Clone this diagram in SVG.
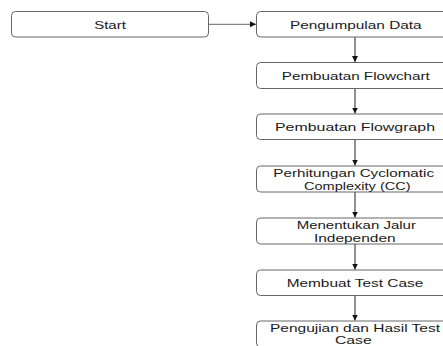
<svg xmlns="http://www.w3.org/2000/svg" width="443" height="346" viewBox="0 0 443 346">
<style>
.box{fill:#fff;stroke:#666;stroke-width:1}
.t{font-family:"Liberation Sans",Arial,sans-serif;font-size:11px;fill:#1a1a1a;text-anchor:middle}
.c{fill:none;stroke:#222;stroke-width:1}
</style>
<defs>
<marker id="ah" markerUnits="userSpaceOnUse" markerWidth="7" markerHeight="7" refX="6" refY="3" orient="auto">
<path d="M0,0 L6,3 L0,6 z" fill="#111"/>
</marker>
</defs>
<rect width="443" height="346" fill="#fff"/>
<g id="connectors">
<path class="c" d="M208.5,24.3 H256" stroke="#666" style="stroke:#666" marker-end="url(#ah)"/>
<path class="c" d="M355,37 V62" marker-end="url(#ah)"/>
<path class="c" d="M355,88.5 V113.5" marker-end="url(#ah)"/>
<path class="c" d="M355,139.5 V165.5" marker-end="url(#ah)"/>
<path class="c" d="M355,192 V217.5" marker-end="url(#ah)"/>
<path class="c" d="M355,244 V269.5" marker-end="url(#ah)"/>
<path class="c" d="M355,295.5 V320.5" marker-end="url(#ah)"/>
</g>
<g id="start">
<rect class="box" x="11.5" y="11.5" width="197" height="25.5" rx="4"/>
<text class="t" x="110" y="28.5" textLength="31.7" lengthAdjust="spacingAndGlyphs">Start</text>
</g>
<g id="pengumpulan">
<rect class="box" x="256.5" y="11.5" width="197" height="25.5" rx="4"/>
<text class="t" x="355.8" y="28.5" textLength="131.7" lengthAdjust="spacingAndGlyphs">Pengumpulan Data</text>
</g>
<g id="flowchart">
<rect class="box" x="256.5" y="62.5" width="197" height="26" rx="4"/>
<text class="t" x="355.8" y="79.8" textLength="148" lengthAdjust="spacingAndGlyphs">Pembuatan Flowchart</text>
</g>
<g id="flowgraph">
<rect class="box" x="256.5" y="114" width="197" height="25.5" rx="4"/>
<text class="t" x="355" y="131" textLength="160" lengthAdjust="spacingAndGlyphs">Pembuatan Flowgraph</text>
</g>
<g id="cc">
<rect class="box" x="256.5" y="166" width="197" height="26" rx="4"/>
<text class="t" x="353.7" y="176.5" textLength="160.7" lengthAdjust="spacingAndGlyphs">Perhitungan Cyclomatic</text>
<text class="t" x="357.3" y="189.8" textLength="106.7" lengthAdjust="spacingAndGlyphs">Complexity (CC)</text>
</g>
<g id="jalur">
<rect class="box" x="256.5" y="218" width="197" height="26" rx="4"/>
<text class="t" x="356.3" y="228.8" textLength="119.3" lengthAdjust="spacingAndGlyphs">Menentukan Jalur</text>
<text class="t" x="354.8" y="241.5" textLength="81.7" lengthAdjust="spacingAndGlyphs">Independen</text>
</g>
<g id="testcase">
<rect class="box" x="256.5" y="270" width="197" height="25.5" rx="4"/>
<text class="t" x="355" y="287" textLength="136.7" lengthAdjust="spacingAndGlyphs">Membuat Test Case</text>
</g>
<g id="pengujian">
<rect class="box" x="256.5" y="321" width="197" height="26" rx="4"/>
<text class="t" x="355" y="331.7" textLength="170" lengthAdjust="spacingAndGlyphs">Pengujian dan Hasil Test</text>
<text class="t" x="353.3" y="344.3" textLength="36.7" lengthAdjust="spacingAndGlyphs">Case</text>
</g>
</svg>
